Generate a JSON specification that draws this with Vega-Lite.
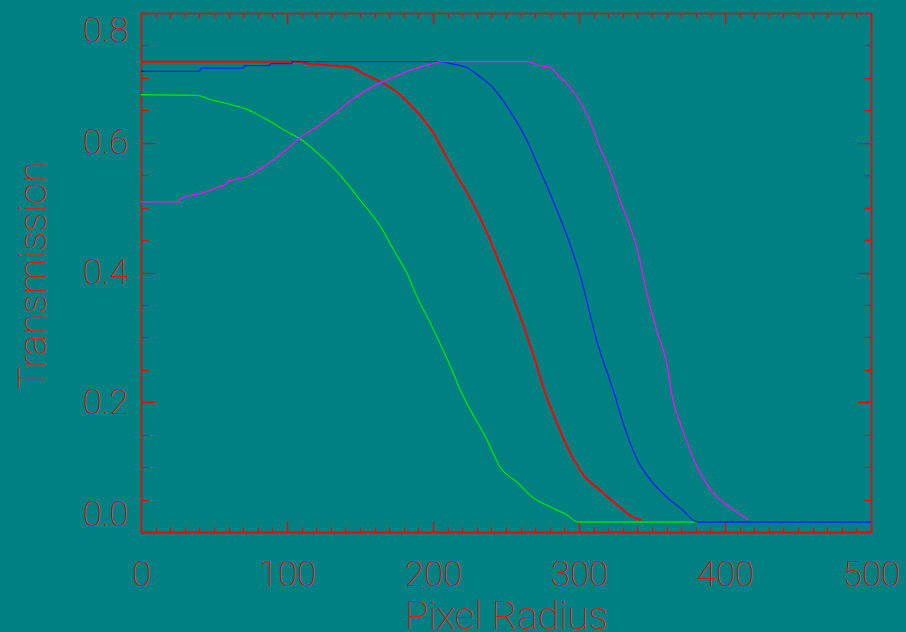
{
"$schema":"https://vega.github.io/schema/vega-lite/v6.json",
"width":730,"height":519,
"autosize":"none",
"padding":{"left":141,"top":13,"right":35,"bottom":100},
"background":"#008080",
"config":{"view":{"stroke":null},
 "axis":{"grid":false,"domainColor":"#ff0000","tickColor":"#ff0000","labelColor":"#ff0000","titleColor":"#ee1111","labelFont":"Roboto","titleFont":"Roboto","labelFontWeight":100,"titleFontWeight":100,"labelFontSize":35,"titleFontSize":39,"tickWidth":1.2,"domainWidth":1.5}},
"data":{"values":[
{"curve":"red","r":0,"t":0.725},{"curve":"red","r":109,"t":0.725},{"curve":"red","r":114,"t":0.722},{"curve":"red","r":131,"t":0.719},{"curve":"red","r":145,"t":0.716},{"curve":"red","r":151,"t":0.708},{"curve":"red","r":164,"t":0.694},{"curve":"red","r":173,"t":0.682},{"curve":"red","r":182,"t":0.664},{"curve":"red","r":192,"t":0.640},{"curve":"red","r":200,"t":0.616},{"curve":"red","r":209,"t":0.579},{"curve":"red","r":218,"t":0.543},{"curve":"red","r":227,"t":0.508},{"curve":"red","r":237,"t":0.461},{"curve":"red","r":246,"t":0.412},{"curve":"red","r":258,"t":0.343},{"curve":"red","r":268,"t":0.278},{"curve":"red","r":278,"t":0.207},{"curve":"red","r":282,"t":0.184},{"curve":"red","r":294,"t":0.122},{"curve":"red","r":303,"t":0.088},{"curve":"red","r":314,"t":0.065},{"curve":"red","r":326,"t":0.042},{"curve":"red","r":337,"t":0.023},{"curve":"red","r":343,"t":0.0185},
{"curve":"green","r":0,"t":0.674},{"curve":"green","r":38,"t":0.673},{"curve":"green","r":47,"t":0.667},{"curve":"green","r":61,"t":0.659},{"curve":"green","r":73,"t":0.651},{"curve":"green","r":86,"t":0.636},{"curve":"green","r":100,"t":0.617},{"curve":"green","r":109,"t":0.606},{"curve":"green","r":123,"t":0.580},{"curve":"green","r":136,"t":0.551},{"curve":"green","r":150,"t":0.512},{"curve":"green","r":164,"t":0.471},{"curve":"green","r":173,"t":0.435},{"curve":"green","r":182,"t":0.400},{"curve":"green","r":189,"t":0.363},{"curve":"green","r":198,"t":0.323},{"curve":"green","r":210,"t":0.265},{"curve":"green","r":221,"t":0.208},{"curve":"green","r":223,"t":0.199},{"curve":"green","r":237,"t":0.142},{"curve":"green","r":246,"t":0.100},{"curve":"green","r":258,"t":0.076},{"curve":"green","r":268,"t":0.054},{"curve":"green","r":280,"t":0.039},{"curve":"green","r":292,"t":0.026},{"curve":"green","r":299,"t":0.0154},{"curve":"green","r":381,"t":0.0154},
{"curve":"blue","r":0,"t":0.710},{"curve":"blue","r":40,"t":0.710},{"curve":"blue","r":41,"t":0.715},{"curve":"blue","r":70,"t":0.715},{"curve":"blue","r":71,"t":0.719},{"curve":"blue","r":88,"t":0.719},{"curve":"blue","r":89,"t":0.722},{"curve":"blue","r":103,"t":0.722},{"curve":"blue","r":104,"t":0.725},{"curve":"blue","r":205,"t":0.725},{"curve":"blue","r":214,"t":0.721},{"curve":"blue","r":223,"t":0.716},{"curve":"blue","r":232,"t":0.702},{"curve":"blue","r":241,"t":0.685},{"curve":"blue","r":246,"t":0.671},{"curve":"blue","r":253,"t":0.648},{"curve":"blue","r":264,"t":0.605},{"curve":"blue","r":273,"t":0.559},{"curve":"blue","r":282,"t":0.512},{"curve":"blue","r":292,"t":0.455},{"curve":"blue","r":301,"t":0.394},{"curve":"blue","r":312,"t":0.296},{"curve":"blue","r":325,"t":0.207},{"curve":"blue","r":328,"t":0.184},{"curve":"blue","r":340,"t":0.111},{"curve":"blue","r":349,"t":0.080},{"curve":"blue","r":360,"t":0.054},{"curve":"blue","r":371,"t":0.034},{"curve":"blue","r":381,"t":0.0154},{"curve":"blue","r":500,"t":0.0154},
{"curve":"magenta","r":0,"t":0.509},{"curve":"magenta","r":26,"t":0.509},{"curve":"magenta","r":27,"t":0.514},{"curve":"magenta","r":34,"t":0.519},{"curve":"magenta","r":41,"t":0.522},{"curve":"magenta","r":47,"t":0.526},{"curve":"magenta","r":52,"t":0.531},{"curve":"magenta","r":57,"t":0.535},{"curve":"magenta","r":60,"t":0.540},{"curve":"magenta","r":73,"t":0.548},{"curve":"magenta","r":86,"t":0.566},{"curve":"magenta","r":100,"t":0.590},{"curve":"magenta","r":109,"t":0.608},{"curve":"magenta","r":121,"t":0.625},{"curve":"magenta","r":132,"t":0.644},{"curve":"magenta","r":145,"t":0.667},{"curve":"magenta","r":159,"t":0.687},{"curve":"magenta","r":173,"t":0.701},{"curve":"magenta","r":186,"t":0.713},{"curve":"magenta","r":200,"t":0.722},{"curve":"magenta","r":205,"t":0.725},{"curve":"magenta","r":265,"t":0.725},{"curve":"magenta","r":273,"t":0.719},{"curve":"magenta","r":280,"t":0.716},{"curve":"magenta","r":287,"t":0.701},{"curve":"magenta","r":294,"t":0.685},{"curve":"magenta","r":301,"t":0.662},{"curve":"magenta","r":308,"t":0.631},{"curve":"magenta","r":314,"t":0.594},{"curve":"magenta","r":321,"t":0.559},{"curve":"magenta","r":328,"t":0.512},{"curve":"magenta","r":335,"t":0.471},{"curve":"magenta","r":340,"t":0.435},{"curve":"magenta","r":347,"t":0.363},{"curve":"magenta","r":353,"t":0.312},{"curve":"magenta","r":360,"t":0.261},{"curve":"magenta","r":364,"t":0.207},{"curve":"magenta","r":371,"t":0.157},{"curve":"magenta","r":381,"t":0.100},{"curve":"magenta","r":392,"t":0.060},{"curve":"magenta","r":403,"t":0.039},{"curve":"magenta","r":416,"t":0.0185}
]},
"layer":[
{"transform":[{"filter":"datum.curve === 'red'"}],
 "mark":{"type":"line","color":"#ff0000","strokeWidth":2,"interpolate":"monotone"},
 "encoding":{
  "x":{"field":"r","type":"quantitative","scale":{"domain":[0,500],"nice":false,"zero":false},
   "axis":{"orient":"bottom","values":[0,100,200,300,400,500],"tickSize":-11,"labelPadding":36,"labelFlush":false,"domainWidth":2,"title":"Pixel Radius","titleBaseline":"alphabetic","titleX":365,"titleY":96}},
  "y":{"field":"t","type":"quantitative","scale":{"domain":[0,0.8],"nice":false,"zero":false},
   "axis":{"orient":"left","values":[0,0.2,0.4,0.6,0.8],"format":".1f","tickSize":-14,"labelPadding":27,"labelFlush":true,"title":"Transmission","titleBaseline":"alphabetic","titleX":-96,"titleY":262}}}},
{"transform":[{"filter":"datum.curve !== 'red'"}],
 "mark":{"type":"line","strokeWidth":1.3,"interpolate":"monotone"},
 "encoding":{
  "x":{"field":"r","type":"quantitative","axis":{"orient":"bottom","values":[0,10,20,30,40,50,60,70,80,90,100,110,120,130,140,150,160,170,180,190,200,210,220,230,240,250,260,270,280,290,300,310,320,330,340,350,360,370,380,390,400,410,420,430,440,450,460,470,480,490,500],"tickSize":-5,"labels":false,"domain":false,"title":null}},
  "y":{"field":"t","type":"quantitative","axis":{"orient":"left","values":[0,0.05,0.1,0.15,0.2,0.25,0.3,0.35,0.4,0.45,0.5,0.55,0.6,0.65,0.7,0.75,0.8],"tickSize":-7,"labels":false,"domain":false,"title":null}},
  "color":{"field":"curve","type":"nominal","scale":{"domain":["green","blue","magenta"],"range":["#00e000","#0020ff","#ee11ee"]},"legend":null}}},
{"mark":{"type":"line","strokeOpacity":0},
 "encoding":{
  "detail":{"field":"curve"},
  "x":{"field":"r","type":"quantitative","axis":{"orient":"top","values":[0,100,200,300,400,500],"tickSize":-11,"labels":false,"title":null}},
  "y":{"field":"t","type":"quantitative","axis":{"orient":"right","values":[0,0.2,0.4,0.6,0.8],"tickSize":-14,"labels":false,"title":null}}}},
{"mark":{"type":"line","strokeOpacity":0},
 "encoding":{
  "detail":{"field":"curve"},
  "x":{"field":"r","type":"quantitative","axis":{"orient":"top","values":[0,10,20,30,40,50,60,70,80,90,100,110,120,130,140,150,160,170,180,190,200,210,220,230,240,250,260,270,280,290,300,310,320,330,340,350,360,370,380,390,400,410,420,430,440,450,460,470,480,490,500],"tickSize":-5,"labels":false,"domain":false,"title":null}},
  "y":{"field":"t","type":"quantitative","axis":{"orient":"right","values":[0,0.05,0.1,0.15,0.2,0.25,0.3,0.35,0.4,0.45,0.5,0.55,0.6,0.65,0.7,0.75,0.8],"tickSize":-7,"labels":false,"domain":false,"title":null}}}}
],
"resolve":{"axis":{"x":"independent","y":"independent"}}
}
